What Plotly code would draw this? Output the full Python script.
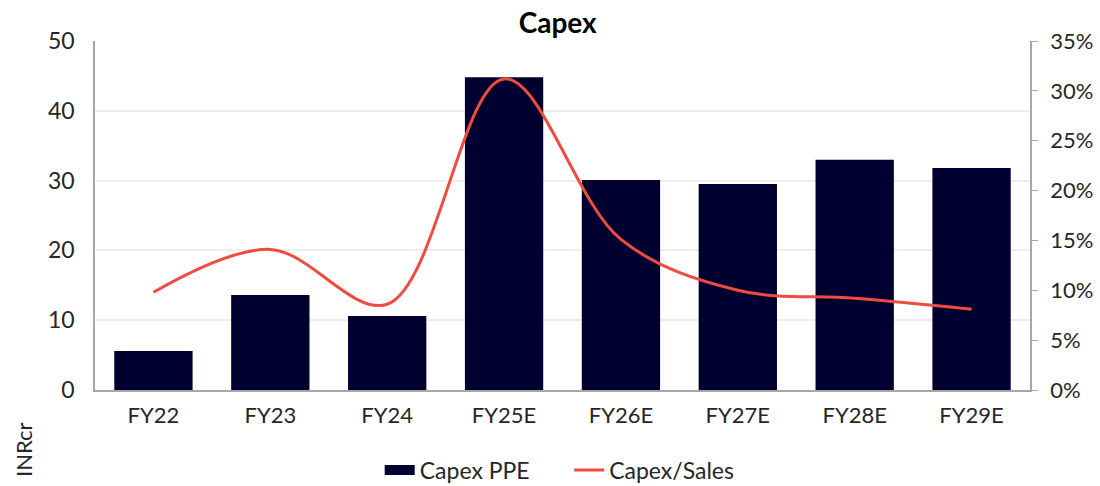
import plotly.graph_objects as go

categories = ["FY22", "FY23", "FY24", "FY25E", "FY26E", "FY27E", "FY28E", "FY29E"]
capex_ppe = [5.6, 13.6, 10.6, 44.8, 30.1, 29.5, 33.0, 31.8]
capex_sales = [9.8, 14.1, 8.6, 31.2, 15.1, 10.0, 9.2, 8.1]
left_ticks = [0, 10, 20, 30, 40, 50]
right_ticks = [0, 5, 10, 15, 20, 25, 30, 35]

NAVY = "#000030"
RED = "#EF4B3F"
FONT = "Lato, 'DejaVu Sans', sans-serif"
fig = go.Figure()
fig.add_trace(go.Bar(x=categories, y=capex_ppe, name="Capex PPE", showlegend=False,
                     marker=dict(color=NAVY, line=dict(width=0))))
# legend-only entry showing the wide bar swatch
fig.add_trace(go.Scatter(x=[None], y=[None], name="Capex PPE\u2003\u2003", mode="lines",
                         line=dict(color=NAVY, width=14)))
fig.add_trace(go.Scatter(x=categories, y=capex_sales, name="Capex/Sales", yaxis="y2",
                         mode="lines", line=dict(color=RED, width=3, shape="spline", smoothing=1.0)))

fig.update_layout(
    width=1100, height=486,
    margin=dict(l=95, r=70, t=41, b=96, autoexpand=False),
    plot_bgcolor="white", paper_bgcolor="white",
    font=dict(family=FONT, size=22, color="#262626"),
    title=dict(text="<b>Capex</b>", x=0.507, xanchor="center", y=0.953, yanchor="middle",
               font=dict(size=28, color="#000000", family=FONT)),
    bargap=0.33,
    xaxis=dict(showline=True, linecolor="#A6A6A6", linewidth=1.5, ticks="", showgrid=False,
               ticklabelstandoff=5, tickfont=dict(size=22)),
    yaxis=dict(range=[0, 50], tickvals=left_ticks, showline=True, linecolor="#A6A6A6", linewidth=1.5,
               gridcolor="#EEEEEE", gridwidth=1.5, ticks="", zeroline=False,
               ticklabelstandoff=14, tickfont=dict(size=23)),
    yaxis2=dict(range=[0, 35], tickvals=right_ticks, ticktext=[f"{v}%" for v in right_ticks],
                overlaying="y", side="right", showline=True, linecolor="#A6A6A6", linewidth=1.5,
                ticks="outside", ticklen=6, tickcolor="#A6A6A6", showgrid=False, zeroline=False,
                ticklabelstandoff=8, tickfont=dict(size=22)),
    legend=dict(orientation="h", x=0.497, xanchor="center", yref="container", y=0.033, yanchor="middle",
                font=dict(size=23), traceorder="normal"),
    annotations=[dict(text="INRcr", textangle=-90, xref="paper", yref="paper",
                      x=-0.077, y=-0.172, xanchor="center", yanchor="middle",
                      showarrow=False, font=dict(size=22))],
)
fig.write_html("out.html")
